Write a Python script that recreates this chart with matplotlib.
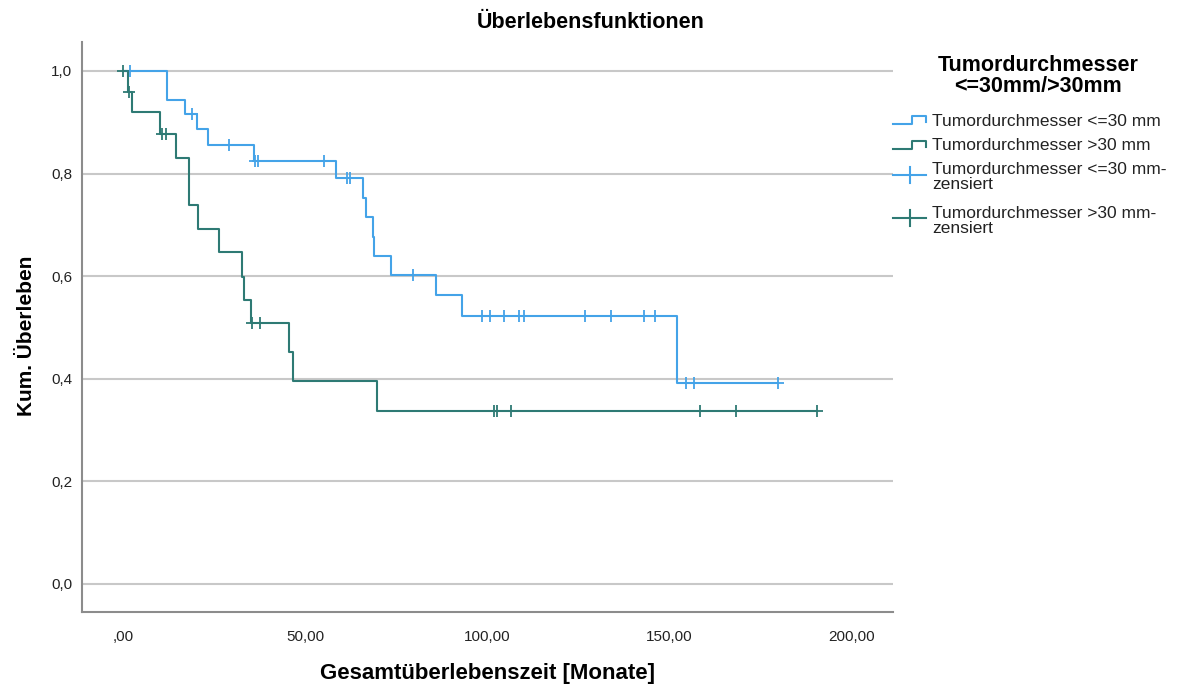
import numpy as np
import matplotlib
matplotlib.use("Agg")
import matplotlib.pyplot as plt
from matplotlib.lines import Line2D

plt.rcParams['font.family'] = ['Liberation Sans', 'DejaVu Sans']

# ---- data ----
small_times = [0, 12.1, 17.0, 20.2, 23.3, 36.0, 58.5, 65.8, 66.7, 68.7, 69.0, 73.6, 86.0, 93.2, 152.1]
small_surv = [1.0, 0.943, 0.916, 0.887, 0.856, 0.824, 0.791, 0.752, 0.715, 0.677, 0.639, 0.602, 0.563, 0.522, 0.392]
small_end = 179.8
small_censored = [1.9, 19.0, 29.1, 36.3, 37.0, 55.3, 61.6, 62.4, 79.6, 98.5, 100.8, 104.7,
                  108.8, 110.2, 126.9, 134.0, 143.0, 146.0, 154.6, 156.9, 179.8]

large_times = [0, 1.3, 2.5, 10.2, 14.6, 18.1, 20.6, 26.4, 32.6, 33.1, 35.2, 45.7, 46.6, 69.7]
large_surv = [1.0, 0.96, 0.92, 0.877, 0.831, 0.739, 0.692, 0.647, 0.599, 0.554, 0.508, 0.453, 0.396, 0.338]
large_end = 190.6
large_censored = [0.0, 1.5, 10.7, 11.8, 35.4, 37.6, 101.9, 102.7, 106.5, 158.5, 168.4, 190.6]

x_ticks = [0, 50, 100, 150, 200]
x_ticklabels = [",00", "50,00", "100,00", "150,00", "200,00"]
y_ticks = [0.0, 0.2, 0.4, 0.6, 0.8, 1.0]
y_ticklabels = ["0,0", "0,2", "0,4", "0,6", "0,8", "1,0"]

legend_labels = ["Tumordurchmesser <=30 mm", "Tumordurchmesser >30 mm",
                 "Tumordurchmesser <=30 mm-\nzensiert", "Tumordurchmesser >30 mm-\nzensiert"]

BLUE = '#44a3e8'
GREEN = '#2e7a74'

W, H = 1189, 686
fig = plt.figure(figsize=(W / 100, H / 100), dpi=100)

def fx(px):
    return px / W

def fy(py):
    return 1 - py / H

ax = fig.add_axes([fx(82), fy(612), fx(893) - fx(82), fy(42) - fy(612)])
ax.set_xlim(-11.3, 211.5)
ax.set_ylim(-0.0546, 1.0565)

for yt in y_ticks:
    ax.axhline(yt, color='#c8c8c8', lw=1.5, zorder=1)

def km(ax, times, surv, end, cens, color):
    t = list(times) + [end]
    s = list(surv) + [surv[-1]]
    ax.step(t, s, where='post', color=color, lw=1.5, zorder=3)
    idx = np.searchsorted(np.array(times), np.array(cens), side='right') - 1
    cy = np.array(surv)[idx]
    ax.plot(cens, cy, linestyle='none', marker='+', markersize=9, mew=1.3,
            color=color, zorder=4)

km(ax, small_times, small_surv, small_end, small_censored, BLUE)
km(ax, large_times, large_surv, large_end, large_censored, GREEN)

ax.set_xticks(x_ticks)
ax.set_xticklabels(x_ticklabels)
ax.set_yticks(y_ticks)
ax.set_yticklabels(y_ticklabels)
ax.tick_params(length=0, labelsize=11, colors='#222222', pad=7)
ax.tick_params(axis='x', pad=13)
for sp in ['top', 'right']:
    ax.spines[sp].set_visible(False)
for sp in ['left', 'bottom']:
    ax.spines[sp].set_color('#8c8c8c')
    ax.spines[sp].set_linewidth(1.5)

fig.text(fx(591), fy(22), "Überlebensfunktionen", ha='center', va='center',
         fontsize=15.5, fontweight='bold')
fig.text(fx(488), fy(673), "Gesamtüberlebenszeit [Monate]", ha='center', va='center',
         fontsize=16, fontweight='bold')
fig.text(fx(27), fy(336), "Kum. Überleben", ha='center', va='center', rotation=90,
         fontsize=15, fontweight='bold')

# ---- legend (drawn manually) ----
fig.text(fx(1038), fy(76), "Tumordurchmesser\n<=30mm/>30mm", ha='center', va='center',
         fontsize=15.5, fontweight='bold', linespacing=0.95)

def step_icon(yc, color):
    xs = [893, 912, 912, 926, 926]
    ys = [yc + 4, yc + 4, yc - 4, yc - 4, yc + 2]
    fig.add_artist(Line2D([fx(x) for x in xs], [fy(y) for y in ys], color=color, lw=1.5,
                          transform=fig.transFigure))

def plus_icon(yc, color):
    fig.add_artist(Line2D([fx(893), fx(926)], [fy(yc), fy(yc)], color=color, lw=1.5,
                          transform=fig.transFigure))
    fig.add_artist(Line2D([fx(910), fx(910)], [fy(yc - 8), fy(yc + 8)], color=color, lw=1.5,
                          transform=fig.transFigure))

step_icon(120, BLUE)
step_icon(145, GREEN)
plus_icon(175, BLUE)
plus_icon(218, GREEN)
legend_y = [121, 146, 177, 221]
for lab, yy in zip(legend_labels, legend_y):
    fig.text(fx(932), fy(yy), lab, ha='left', va='center', fontsize=12.5,
             color='#222222', linespacing=0.95)

fig.savefig("out.png", dpi=100)
